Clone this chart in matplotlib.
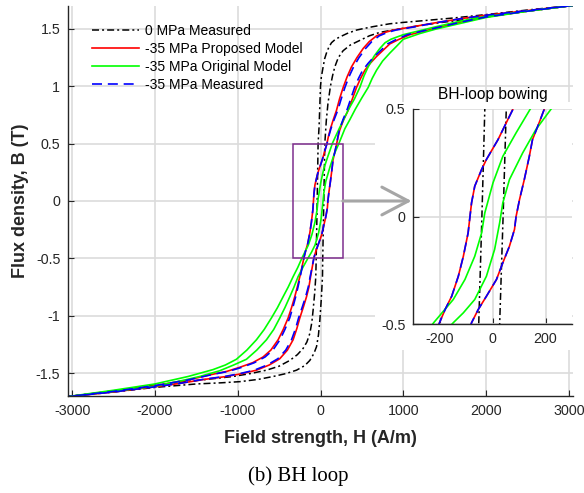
"""Recreate the BH loop comparison with the 'BH-loop bowing' inset."""

import matplotlib

matplotlib.use("Agg")

import matplotlib.pyplot as plt
from matplotlib.patches import Rectangle

# 0 MPa measured loop (descending branch, then ascending branch)
black_desc_h = [3050, 2500, 2000, 1600, 1240, 1000, 836, 635, 530, 434, 320, 233, 180,
                133, 100, 72, 50, 32, 10, 0, -17, -29, -40, -52, -57, -70, -89, -105,
                -129, -165, -210, -280, -371, -500, -653, -850, -1057, -1500, -2000,
                -2500, -3050]
black_desc_b = [1.705, 1.665, 1.625, 1.595, 1.572, 1.557, 1.545, 1.52, 1.505, 1.49, 1.46,
                1.43, 1.41, 1.38, 1.34, 1.29, 1.24, 1.17, 1.08, 1.0, 0.65, 0.5, 0.0,
                -0.5, -0.66, -0.8, -0.95, -1.06, -1.155, -1.23, -1.285, -1.34, -1.39,
                -1.44, -1.475, -1.505, -1.53, -1.565, -1.605, -1.655, -1.705]
black_asc_h = [-3050, -2500, -2000, -1500, -1200, -976, -750, -573, -420, -290, -190,
               -129, -80, -48, -25, -8, 10, 24, 27, 40, 52, 70, 90, 120, 145, 173, 215,
               273, 360, 475, 590, 716, 870, 1040, 1250, 1500, 2000, 2500, 3050]
black_asc_b = [-1.705, -1.665, -1.625, -1.595, -1.585, -1.575, -1.555, -1.53, -1.505,
               -1.475, -1.435, -1.39, -1.33, -1.27, -1.17, -1.04, -0.85, -0.66, -0.5, 0.0,
               0.5, 0.7, 0.85, 1.0, 1.09, 1.17, 1.25, 1.31, 1.36, 1.40, 1.44, 1.47, 1.49,
               1.51, 1.535, 1.56, 1.605, 1.655, 1.705]

# -35 MPa proposed model
red_desc_h = [3050, 2500, 2000, 1700, 1400, 1120, 1000, 878, 780, 677, 590, 516, 440, 375,
              320, 274, 230, 193, 155, 120, 95, 77, 52, 21, -23, -41, -67, -79, -85, -92,
              -110, -129, -154, -179, -200, -225, -250, -280, -311, -350, -391, -450,
              -512, -600, -694, -820, -976, -1130, -1300, -1600, -2000, -2500, -3050]
red_desc_b = [1.705, 1.66, 1.62, 1.59, 1.555, 1.52, 1.505, 1.49, 1.47, 1.44, 1.39, 1.33,
              1.25, 1.17, 1.08, 0.99, 0.89, 0.79, 0.71, 0.63, 0.56, 0.5, 0.436, 0.358,
              0.265, 0.219, 0.141, 0.064, 0.0, -0.076, -0.185, -0.278, -0.371, -0.433,
              -0.494, -0.58, -0.66, -0.75, -0.835, -0.93, -1.02, -1.12, -1.21, -1.30,
              -1.36, -1.41, -1.45, -1.485, -1.51, -1.56, -1.61, -1.66, -1.705]
red_asc_h = [-3050, -2500, -2000, -1700, -1400, -1137, -950, -774, -620, -492, -400, -331,
             -285, -250, -205, -169, -140, -120, -98, -79, -54, -23, 15, 39, 64, 83, 89,
             102, 120, 139, 151, 176, 195, 212, 233, 280, 334, 385, 435, 485, 536, 600,
             677, 750, 838, 950, 1080, 1240, 1400, 1700, 2000, 2500, 3050]
red_asc_b = [-1.705, -1.665, -1.62, -1.59, -1.555, -1.53, -1.505, -1.475, -1.43, -1.375,
             -1.30, -1.21, -1.11, -1.02, -0.92, -0.835, -0.75, -0.66, -0.57, -0.494,
             -0.433, -0.371, -0.293, -0.215, -0.138, -0.06, 0.0, 0.079, 0.172, 0.28,
             0.358, 0.436, 0.498, 0.56, 0.62, 0.71, 0.79, 0.89, 0.99, 1.07, 1.14, 1.20,
             1.26, 1.31, 1.37, 1.41, 1.45, 1.48, 1.51, 1.56, 1.605, 1.655, 1.705]

# -35 MPa original model
green_desc_h = [3050, 2500, 2000, 1700, 1400, 1200, 1000, 850, 780, 717, 645, 576, 525,
                475, 410, 340, 280, 225, 180, 145, 89, 39, 2, -29, -41, -67, -104, -148,
                -185, -222, -275, -331, -390, -452, -520, -593, -680, -774, -890, -1016,
                -1150, -1299, -1600, -2000, -2500, -3050]
green_desc_b = [1.705, 1.655, 1.61, 1.57, 1.52, 1.485, 1.45, 1.41, 1.38, 1.33, 1.26, 1.17,
                1.09, 0.99, 0.89, 0.8, 0.71, 0.63, 0.56, 0.505, 0.389, 0.28, 0.157,
                0.017, -0.076, -0.185, -0.293, -0.386, -0.44, -0.494, -0.58, -0.66,
                -0.75, -0.835, -0.93, -1.02, -1.12, -1.21, -1.30, -1.38, -1.43, -1.47,
                -1.53, -1.595, -1.65, -1.705]
green_asc_h = [-3050, -2500, -2000, -1700, -1459, -1218, -1050, -895, -770, -653, -565,
               -492, -430, -371, -320, -271, -210, -148, -110, -67, -23, 8, 27, 39, 64,
               114, 164, 220, 255, 294, 355, 420, 500, 576, 625, 677, 750, 838, 920, 1000,
               1200, 1400, 1700, 2000, 2500, 3050]
green_asc_b = [-1.705, -1.66, -1.615, -1.57, -1.53, -1.48, -1.43, -1.38, -1.30, -1.21,
               -1.12, -1.02, -0.93, -0.835, -0.75, -0.66, -0.575, -0.494, -0.448, -0.386,
               -0.278, -0.153, -0.029, 0.064, 0.172, 0.296, 0.405, 0.498, 0.56, 0.63,
               0.71, 0.8, 0.9, 0.99, 1.07, 1.14, 1.22, 1.29, 1.35, 1.41, 1.46, 1.50, 1.55,
               1.60, 1.655, 1.705]

# -35 MPa measured loop
blue_desc_h = [3050, 2500, 2000, 1700, 1400, 1150, 1030, 910, 810, 710, 620, 545, 465,
               400, 342, 295, 250, 208, 165, 126, 98, 78, 52, 21, -23, -41, -67, -79, -85,
               -92, -110, -129, -154, -179, -200, -222, -245, -272, -300, -335, -372,
               -430, -490, -575, -670, -800, -950, -1110, -1290, -1600, -2000, -2500,
               -3050]
blue_desc_b = [1.705, 1.66, 1.62, 1.59, 1.555, 1.52, 1.505, 1.49, 1.47, 1.44, 1.39, 1.33,
               1.25, 1.17, 1.08, 0.99, 0.89, 0.79, 0.71, 0.63, 0.56, 0.5, 0.436, 0.358,
               0.265, 0.219, 0.141, 0.064, 0.0, -0.076, -0.185, -0.278, -0.371, -0.433,
               -0.494, -0.58, -0.66, -0.75, -0.835, -0.93, -1.02, -1.12, -1.21, -1.30,
               -1.36, -1.41, -1.45, -1.485, -1.51, -1.56, -1.61, -1.66, -1.705]
blue_asc_h = [-3050, -2500, -2000, -1700, -1420, -1160, -975, -800, -645, -515, -420,
              -350, -300, -265, -218, -180, -148, -125, -100, -79, -54, -23, 15, 39, 64,
              83, 89, 102, 120, 139, 151, 176, 195, 210, 228, 272, 318, 365, 412, 460,
              510, 575, 650, 725, 810, 920, 1050, 1220, 1400, 1700, 2000, 2500, 3050]
blue_asc_b = [-1.705, -1.665, -1.62, -1.59, -1.555, -1.53, -1.505, -1.475, -1.43, -1.375,
              -1.30, -1.21, -1.11, -1.02, -0.92, -0.835, -0.75, -0.66, -0.57, -0.494,
              -0.433, -0.371, -0.293, -0.215, -0.138, -0.06, 0.0, 0.079, 0.172, 0.28,
              0.358, 0.436, 0.498, 0.56, 0.62, 0.71, 0.79, 0.89, 0.99, 1.07, 1.14, 1.20,
              1.26, 1.31, 1.37, 1.41, 1.45, 1.48, 1.51, 1.56, 1.605, 1.655, 1.705]

legend_labels = ["0 MPa Measured", "-35 MPa Proposed Model",
                 "-35 MPa Original Model", "-35 MPa Measured"]

main_xticks = [-3000, -2000, -1000, 0, 1000, 2000, 3000]
main_yticks = [-1.5, -1, -0.5, 0, 0.5, 1, 1.5]
main_ytick_labels = ["-1.5", "-1", "-0.5", "0", "0.5", "1", "1.5"]
inset_xticks = [-200, 0, 200]
inset_yticks = [-0.5, 0, 0.5]
inset_ytick_labels = ["-0.5", "0", "0.5"]

# zoom window drawn on the main plot
box_h = (-330, 270)
box_b = (-0.5, 0.5)

plt.rcParams["font.family"] = ["Liberation Sans", "DejaVu Sans"]
plt.rcParams["axes.unicode_minus"] = False

INK = "#262626"
GRID = "#dcdcdc"
LW = 1.2


def _style_axis(axis, xticks, yticks, ylabels):
    """Matlab-like axis: left/bottom spines, inward ticks, light grid."""
    for side in ("top", "right"):
        axis.spines[side].set_visible(False)
    for side in ("left", "bottom"):
        axis.spines[side].set_color(INK)
        axis.spines[side].set_linewidth(1.0)
    axis.set_xticks(xticks)
    axis.set_xticklabels([str(t) for t in xticks])
    axis.set_yticks(yticks)
    axis.set_yticklabels(ylabels)
    axis.tick_params(direction="in", length=4, width=0.8, colors=INK,
                     labelsize=10.3, labelcolor=INK)
    axis.tick_params(axis="y", pad=5.5)
    axis.tick_params(axis="x", pad=6)
    axis.grid(True, color=GRID, linewidth=1.2)
    axis.set_axisbelow(True)


def _draw_loops(axis):
    """Draw the four loops, returns one handle per loop for the legend."""
    dashdot = (4.6, 2.0, 1.3, 2.0)
    handles = []
    line, = axis.plot(black_desc_h, black_desc_b, color="k", lw=1.1, dashes=dashdot)
    axis.plot(black_asc_h, black_asc_b, color="k", lw=1.1, dashes=dashdot)
    handles.append(line)
    line, = axis.plot(red_desc_h, red_desc_b, color="#ff0000", lw=LW)
    axis.plot(red_asc_h, red_asc_b, color="#ff0000", lw=LW)
    handles.append(line)
    line, = axis.plot(green_desc_h, green_desc_b, color="#00ff00", lw=LW)
    axis.plot(green_asc_h, green_asc_b, color="#00ff00", lw=LW)
    handles.append(line)
    line, = axis.plot(blue_desc_h, blue_desc_b, color="#0000ff", lw=LW, dashes=(6, 3.5))
    axis.plot(blue_asc_h, blue_asc_b, color="#0000ff", lw=LW, dashes=(6, 3.5))
    handles.append(line)
    return handles


def plot_bh_loop():
    """Main BH loop figure with the bowing inset."""
    fig = plt.figure(figsize=(5.84, 4.93), dpi=100)
    ax = fig.add_axes([68 / 584, 97 / 493, 505 / 584, 390 / 493])

    handles = _draw_loops(ax)
    _style_axis(ax, main_xticks, main_yticks, main_ytick_labels)
    ax.set_xlim(-3050, 3050)
    ax.set_ylim(-1.7, 1.7)

    ax.set_xlabel("Field strength, H (A/m)", fontsize=13, fontweight="bold",
                  color=INK, va="center")
    ax.xaxis.set_label_coords(0.5, -0.108)
    ax.set_ylabel("Flux density, B (T)", fontsize=13, fontweight="bold",
                  color=INK, va="center")
    ax.yaxis.set_label_coords(-0.095, 0.5)

    ax.legend(handles, legend_labels, loc="upper left", bbox_to_anchor=(0.047, 0.955),
              frameon=False, fontsize=10, handlelength=3.4, handletextpad=0.45,
              labelspacing=0.3, borderpad=0, borderaxespad=0)

    # zoom window and arrow towards the inset
    ax.add_patch(Rectangle((box_h[0], box_b[0]), box_h[1] - box_h[0], box_b[1] - box_b[0],
                           fill=False, edgecolor="#7e2f8e", lw=1.1, zorder=4))
    # white backing behind the inset and its tick labels
    ax.add_patch(Rectangle((375 / 584, 143 / 493), 197 / 584, 248 / 493,
                           transform=fig.transFigure, facecolor="white",
                           edgecolor="none", zorder=1.8))
    ax.annotate("", xy=(1100, 0), xytext=(box_h[1], 0),
                arrowprops=dict(arrowstyle="->,head_length=1.9,head_width=1.0",
                                mutation_scale=10, color="#a6a6a6", lw=2.2,
                                shrinkA=0, shrinkB=0), zorder=5)

    inset = fig.add_axes([413 / 584, 169 / 493, 159 / 584, 215 / 493])
    _draw_loops(inset)
    _style_axis(inset, inset_xticks, inset_yticks, inset_ytick_labels)
    inset.set_xlim(-300, 300)
    inset.set_ylim(-0.5, 0.5)
    inset.set_title("BH-loop bowing", fontsize=11.2, color="black", pad=7.5)

    fig.text(298 / 584, 1 - 476 / 493, "(b) BH loop", ha="center", va="center",
             fontsize=15, family=["Liberation Serif", "DejaVu Serif"])

    fig.savefig("out.png", dpi=100)


if __name__ == "__main__":
    plot_bh_loop()
